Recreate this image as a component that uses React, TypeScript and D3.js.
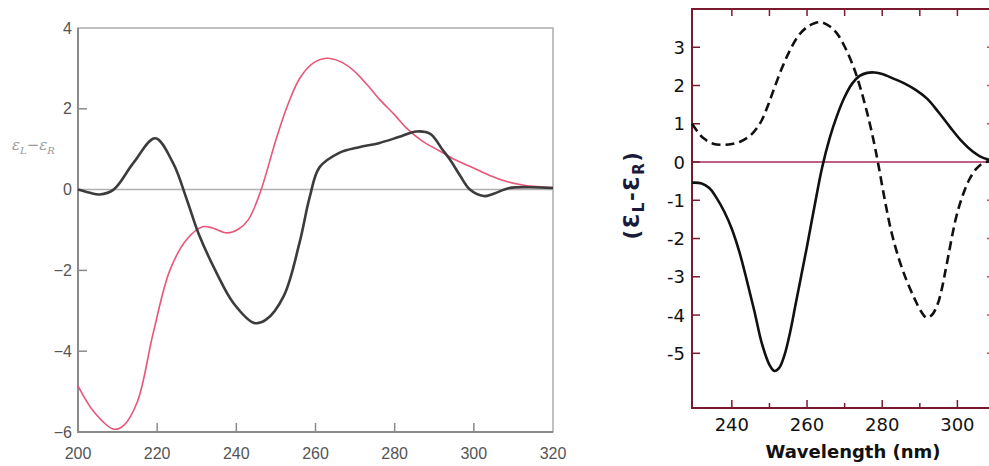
import { useEffect, useRef } from 'react';
import * as d3 from 'd3';

// Left panel: two CD spectra, 200-320 nm
const grayWl = [200, 203, 205.5, 209, 214, 219.5, 224, 227.5, 230.5, 235, 239.2, 244.5, 247.5, 252, 256, 258.5, 261, 266, 271, 276, 281, 285.5, 289, 292, 294, 296.5, 299, 302.5, 305, 309, 314, 320];
const grayVals = [0, -0.08, -0.12, 0, 0.66, 1.27, 0.66, -0.25, -1.1, -2.06, -2.8, -3.3, -3.22, -2.63, -1.3, -0.2, 0.55, 0.91, 1.05, 1.15, 1.3, 1.44, 1.38, 1.0, 0.74, 0.35, 0.0, -0.16, -0.1, 0.04, 0.06, 0.04];

const pinkWl = [200, 204, 209, 211.5, 215, 219, 223.2, 227.5, 231.5, 234, 237.6, 240.5, 243, 246, 250, 253, 256, 259.4, 262.8, 266, 269.5, 273, 276.3, 280, 283, 287, 291.5, 295, 299.8, 304, 308.3, 312, 315, 320];
const pinkVals = [-4.86, -5.5, -5.93, -5.84, -5.25, -3.55, -2.0, -1.23, -0.92, -0.95, -1.07, -0.98, -0.75, -0.08, 1.23, 2.1, 2.75, 3.13, 3.25, 3.18, 2.96, 2.6, 2.22, 1.85, 1.52, 1.2, 0.95, 0.75, 0.54, 0.35, 0.2, 0.12, 0.08, 0.05];

const leftXTicks = [200, 220, 240, 260, 280, 300, 320];
const leftYTicks = [4, 2, 0, -2, -4, -6];

// Right panel: solid and dashed spectra, ~229-310 nm
const solidWl = [229.4, 232, 234, 236, 238, 240, 242, 244, 246, 248, 250, 251.3, 252.6, 254, 255.5, 257, 258.5, 260, 262, 264, 266, 268, 270, 272, 274, 276, 278, 280, 283, 286, 289, 292, 295, 298, 301, 304, 306, 308, 310];
const solidVals = [-0.54, -0.56, -0.68, -0.95, -1.3, -1.75, -2.35, -3.1, -3.9, -4.75, -5.3, -5.46, -5.38, -5.05, -4.45, -3.7, -2.95, -2.2, -1.15, -0.15, 0.62, 1.22, 1.7, 2.05, 2.25, 2.33, 2.34, 2.3, 2.18, 2.05, 1.88, 1.65, 1.3, 0.92, 0.56, 0.28, 0.15, 0.07, 0.04];

const dashedWl = [229.4, 231, 232.5, 235, 237.8, 240, 242.2, 245, 247.5, 249.5, 251.1, 253.3, 255.5, 257.7, 259.9, 262, 263.9, 266, 267.9, 270, 272.3, 274, 275.8, 277.4, 278.9, 280.7, 282.5, 284.5, 286.5, 288.5, 290.3, 291.8, 293.2, 294.8, 296, 297.1, 299.7, 301.5, 303.2, 305, 306.8, 308.5, 310];
const dashedVals = [1.0, 0.78, 0.62, 0.48, 0.45, 0.47, 0.53, 0.7, 1.01, 1.45, 1.88, 2.45, 2.93, 3.3, 3.52, 3.63, 3.65, 3.55, 3.37, 3.02, 2.5, 2.0, 1.36, 0.7, -0.03, -1.0, -1.85, -2.55, -3.1, -3.55, -3.9, -4.07, -4.0, -3.7, -3.25, -2.7, -1.43, -0.85, -0.45, -0.18, -0.03, 0.02, 0.02];

const rightXTicks = [240, 250, 260, 270, 280, 290, 300, 310];
const rightXLabels = [240, 260, 280, 300];
const rightYTicks = [3, 2, 1, 0, -1, -2, -3, -4, -5];

const zip = (xs: number[], ys: number[]) => xs.map((x, i) => [x, ys[i]] as [number, number]);

export default function App() {
  const svgRef = useRef<SVGSVGElement>(null);

  useEffect(() => {
    if (!svgRef.current) return;
    const svg = d3.select(svgRef.current);
    svg.selectAll('*').remove();

    // ---------- left panel ----------
    const L = { left: 78, right: 553, top: 28, bottom: 432 };
    const lx = d3.scaleLinear().domain([200, 320]).range([L.left, L.right]);
    const ly = d3.scaleLinear().domain([-6, 4]).range([L.bottom, L.top]);
    const lg = svg.append('g');

    lg.append('line')
      .attr('x1', L.left).attr('x2', L.right)
      .attr('y1', ly(0)).attr('y2', ly(0))
      .attr('stroke', '#b0b0b0').attr('stroke-width', 1.5);

    lg.append('rect')
      .attr('x', L.left).attr('y', L.top)
      .attr('width', L.right - L.left).attr('height', L.bottom - L.top)
      .attr('fill', 'none').attr('stroke', '#a0a0a0').attr('stroke-width', 1.3);
    lg.append('path')
      .attr('d', `M${L.left},${L.top}V${L.bottom}H${L.right}`)
      .attr('fill', 'none').attr('stroke', '#8a8a8a').attr('stroke-width', 2);

    lg.selectAll('line.yt').data(leftYTicks.filter(d => d !== 4 && d !== -6 && d !== 0)).join('line')
      .attr('class', 'yt')
      .attr('x1', L.left).attr('x2', L.left + 9)
      .attr('y1', d => ly(d)).attr('y2', d => ly(d))
      .attr('stroke', '#8a8a8a').attr('stroke-width', 1.5);
    lg.selectAll('line.xt').data(leftXTicks.filter(d => d !== 200 && d !== 320)).join('line')
      .attr('class', 'xt')
      .attr('x1', d => lx(d)).attr('x2', d => lx(d))
      .attr('y1', L.bottom).attr('y2', L.bottom - 9)
      .attr('stroke', '#8a8a8a').attr('stroke-width', 1.5);

    lg.selectAll('text.yl').data(leftYTicks).join('text')
      .attr('class', 'yl')
      .attr('x', 72).attr('y', d => ly(d))
      .attr('dy', '0.35em')
      .attr('text-anchor', 'end')
      .attr('font-family', 'Liberation Sans, Arial, sans-serif')
      .attr('font-size', 16)
      .attr('fill', '#555')
      .text(d => (d < 0 ? '\u2212' + Math.abs(d) : String(d)));
    lg.selectAll('text.xl').data(leftXTicks).join('text')
      .attr('class', 'xl')
      .attr('x', d => lx(d)).attr('y', 459)
      .attr('text-anchor', 'middle')
      .attr('font-family', 'Liberation Sans, Arial, sans-serif')
      .attr('font-size', 16)
      .attr('fill', '#555')
      .text(d => d);

    const lyLab = lg.append('text')
      .attr('x', 12).attr('y', 150)
      .attr('font-family', 'DejaVu Serif, serif')
      .attr('font-style', 'italic')
      .attr('font-size', 15)
      .attr('fill', '#9a9a9a');
    lyLab.append('tspan').text('ε');
    lyLab.append('tspan').attr('font-size', 10).attr('dy', 4).text('L');
    lyLab.append('tspan').attr('dy', -4).text('\u2212ε');
    lyLab.append('tspan').attr('font-size', 10).attr('dy', 4).text('R');

    const lline = d3.line<[number, number]>()
      .x(d => lx(d[0])).y(d => ly(d[1]))
      .curve(d3.curveCatmullRom.alpha(0.5));

    lg.append('path')
      .attr('d', lline(zip(pinkWl, pinkVals)))
      .attr('fill', 'none').attr('stroke', '#e8567a').attr('stroke-width', 1.6);
    lg.append('path')
      .attr('d', lline(zip(grayWl, grayVals)))
      .attr('fill', 'none').attr('stroke', '#3c3c3c').attr('stroke-width', 2.6);

    // ---------- right panel ----------
    const R = { left: 692, right: 995, top: 9, bottom: 408 };
    const rx = d3.scaleLinear().domain([229.4, 310]).range([R.left, R.right]);
    const ry = d3.scaleLinear().domain([-6.43, 4.0]).range([R.bottom, R.top]);
    const rg = svg.append('g');
    const frame = '#7a1a2e';
    const font = 'DejaVu Sans, Verdana, sans-serif';

    rg.append('line')
      .attr('x1', R.left).attr('x2', R.right)
      .attr('y1', ry(0)).attr('y2', ry(0))
      .attr('stroke', '#a82a62').attr('stroke-width', 1.6);

    rg.append('rect')
      .attr('x', R.left).attr('y', R.top)
      .attr('width', R.right - R.left).attr('height', R.bottom - R.top)
      .attr('fill', 'none').attr('stroke', frame).attr('stroke-width', 2);

    rg.selectAll('line.yt').data(rightYTicks).join('line')
      .attr('class', 'yt')
      .attr('x1', R.left).attr('x2', R.left + 8)
      .attr('y1', d => ry(d)).attr('y2', d => ry(d))
      .attr('stroke', frame).attr('stroke-width', 1.5);
    rg.selectAll('line.yt2').data(rightYTicks).join('line')
      .attr('class', 'yt2')
      .attr('x1', R.right).attr('x2', R.right - 8)
      .attr('y1', d => ry(d)).attr('y2', d => ry(d))
      .attr('stroke', '#d04848').attr('stroke-width', 1.5);
    rg.selectAll('line.xb').data(rightXTicks).join('line')
      .attr('class', 'xb')
      .attr('x1', d => rx(d)).attr('x2', d => rx(d))
      .attr('y1', R.bottom).attr('y2', d => R.bottom - (d % 20 === 0 ? 8 : 5))
      .attr('stroke', frame).attr('stroke-width', 1.5);
    rg.selectAll('line.xtp').data(rightXTicks).join('line')
      .attr('class', 'xtp')
      .attr('x1', d => rx(d)).attr('x2', d => rx(d))
      .attr('y1', R.top).attr('y2', R.top + 7)
      .attr('stroke', frame).attr('stroke-width', 1.5);

    rg.selectAll('text.yl').data(rightYTicks).join('text')
      .attr('class', 'yl')
      .attr('x', 685).attr('y', d => ry(d))
      .attr('dy', '0.36em')
      .attr('text-anchor', 'end')
      .attr('font-family', font)
      .attr('font-size', 18)
      .attr('fill', '#111')
      .text(d => String(d));
    rg.selectAll('text.xl').data(rightXLabels).join('text')
      .attr('class', 'xl')
      .attr('x', d => rx(d)).attr('y', 431)
      .attr('text-anchor', 'middle')
      .attr('font-family', font)
      .attr('font-size', 18)
      .attr('fill', '#111')
      .text(d => d);

    rg.append('text')
      .attr('x', 853).attr('y', 458)
      .attr('text-anchor', 'middle')
      .attr('font-family', font)
      .attr('font-weight', 'bold')
      .attr('font-size', 18)
      .attr('fill', '#111')
      .text('Wavelength (nm)');

    const ryLab = rg.append('text')
      .attr('transform', 'translate(639,195) rotate(-90)')
      .attr('text-anchor', 'middle')
      .attr('font-family', font)
      .attr('font-weight', 'bold')
      .attr('font-size', 21)
      .attr('letter-spacing', 1.5)
      .attr('fill', '#1a1a3a');
    ryLab.append('tspan').text('(Ɛ');
    ryLab.append('tspan').attr('font-size', 15).attr('dy', 5).text('L');
    ryLab.append('tspan').attr('dy', -5).text('-Ɛ');
    ryLab.append('tspan').attr('font-size', 15).attr('dy', 5).text('R');
    ryLab.append('tspan').attr('dy', -5).text(')');

    const rline = d3.line<[number, number]>()
      .x(d => rx(d[0])).y(d => ry(d[1]))
      .curve(d3.curveCatmullRom.alpha(0.5));

    rg.append('path')
      .attr('d', rline(zip(dashedWl, dashedVals)))
      .attr('fill', 'none').attr('stroke', '#111').attr('stroke-width', 2.6)
      .attr('stroke-dasharray', '9,5');
    rg.append('path')
      .attr('d', rline(zip(solidWl, solidVals)))
      .attr('fill', 'none').attr('stroke', '#111').attr('stroke-width', 2.6);
  }, []);

  return (
    <svg
      ref={svgRef}
      width={989}
      height={466}
      style={{ position: 'absolute', left: 0, top: 0, background: '#fff' }}
    />
  );
}
